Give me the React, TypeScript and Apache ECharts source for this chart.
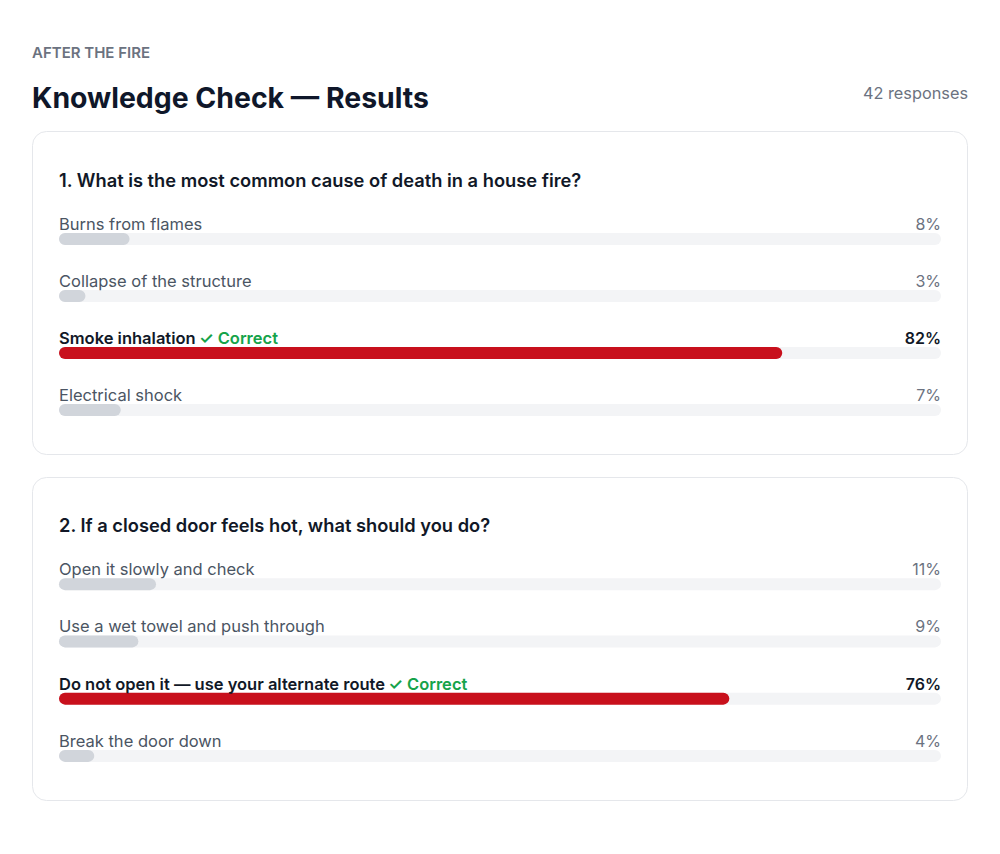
import React, { useEffect, useRef } from "react";
import * as echarts from "echarts";

const eyebrow = "AFTER THE FIRE";
const title = "Knowledge Check — Results";
const responses = "42 responses";

const q1Title = "1. What is the most common cause of death in a house fire?";
const q1Options = ["Burns from flames", "Collapse of the structure", "Smoke inhalation", "Electrical shock"];
const q1Values = [8, 3, 82, 7];
const q1Correct = 2;

const q2Title = "2. If a closed door feels hot, what should you do?";
const q2Options = ["Open it slowly and check", "Use a wet towel and push through", "Do not open it — use your alternate route", "Break the door down"];
const q2Values = [11, 9, 76, 4];
const q2Correct = 2;

const FONT = "Inter, 'Noto Sans', sans-serif";
const RED = "#c8101c";
const GRAY_FILL = "#d1d5db";
const TRACK = "#f3f4f6";

function buildSeries(gi: number, options: string[], values: number[], correct: number) {
  const common = {
    type: "bar" as const,
    xAxisIndex: gi,
    yAxisIndex: gi,
    barWidth: 12,
    barGap: "-100%",
    silent: true,
  };
  return [
    {
      ...common,
      data: options.map(() => 100),
      itemStyle: { color: TRACK, borderRadius: 6 },
      label: {
        show: true,
        position: [0, -9],
        align: "left",
        verticalAlign: "middle",
        formatter: (p: any) =>
          p.dataIndex === correct
            ? `{b|${options[p.dataIndex]}} {c|✓ Correct}`
            : `{n|${options[p.dataIndex]}}`,
        rich: {
          n: { fontFamily: FONT, fontSize: 16.5, color: "#4b5563", fontWeight: 400 },
          b: { fontFamily: FONT, fontSize: 16.5, color: "#111827", fontWeight: 600 },
          c: { fontFamily: FONT, fontSize: 16.5, color: "#16a34a", fontWeight: 600 },
        },
      },
    },
    {
      ...common,
      data: values.map((v, i) => ({
        value: v,
        itemStyle: { color: i === correct ? RED : GRAY_FILL, borderRadius: 6 },
      })),
    },
    {
      ...common,
      data: values.map((v, i) => ({
        value: 100,
        label: {
          show: true,
          position: ["100%", -9],
          align: "right",
          verticalAlign: "middle",
          formatter: `${v}%`,
          fontFamily: FONT,
          fontSize: 16,
          color: i === correct ? "#111827" : "#6b7280",
          fontWeight: i === correct ? 600 : 400,
        },
      })),
      itemStyle: { color: "rgba(0,0,0,0)" },
    },
  ];
}

export default function App() {
  const ref = useRef<HTMLDivElement>(null);
  useEffect(() => {
    if (!ref.current) return;
    const chart = echarts.init(ref.current, null, { renderer: "svg" });
    const card = (y: number, h: number) => ({
      type: "rect",
      z: 0,
      shape: { x: 32.5, y, width: 935, height: h, r: 14 },
      style: { fill: "#ffffff", stroke: "#e5e7eb", lineWidth: 1 },
    });
    const txt = (text: string, x: number, y: number, size: number, weight: number, color: string, align = "left") => ({
      type: "text",
      z: 1,
      style: {
        text,
        x,
        y,
        fill: color,
        font: `${weight} ${size}px ${FONT}`,
        textAlign: align,
        textVerticalAlign: "middle",
      },
    });
    chart.setOption({
      animation: false,
      backgroundColor: "#ffffff",
      graphic: [
        card(131.5, 323),
        card(477.5, 323),
        txt(eyebrow, 32, 52, 15, 600, "#6b7280"),
        txt(title, 32, 97, 28.4, 700, "#0f172a"),
        txt(responses, 968, 93, 16.3, 400, "#6b7280", "right"),
        txt(q1Title, 59, 180, 18.3, 600, "#111827"),
        txt(q2Title, 59, 525, 18.3, 600, "#111827"),
      ],
      grid: [
        { left: 59, width: 882, top: 210.5, height: 228, containLabel: false },
        { left: 59, width: 882, top: 555.5, height: 229, containLabel: false },
      ],
      xAxis: [0, 1].map((g) => ({ type: "value", gridIndex: g, min: 0, max: 100, show: false })),
      yAxis: [
        { type: "category", gridIndex: 0, data: q1Options, inverse: true, show: false },
        { type: "category", gridIndex: 1, data: q2Options, inverse: true, show: false },
      ],
      series: [
        ...buildSeries(0, q1Options, q1Values, q1Correct),
        ...buildSeries(1, q2Options, q2Values, q2Correct),
      ],
    });
    return () => chart.dispose();
  }, []);
  return (
    <div
      ref={ref}
      style={{ position: "absolute", left: 0, top: 0, width: 1000, height: 854, background: "#fff" }}
    />
  );
}
